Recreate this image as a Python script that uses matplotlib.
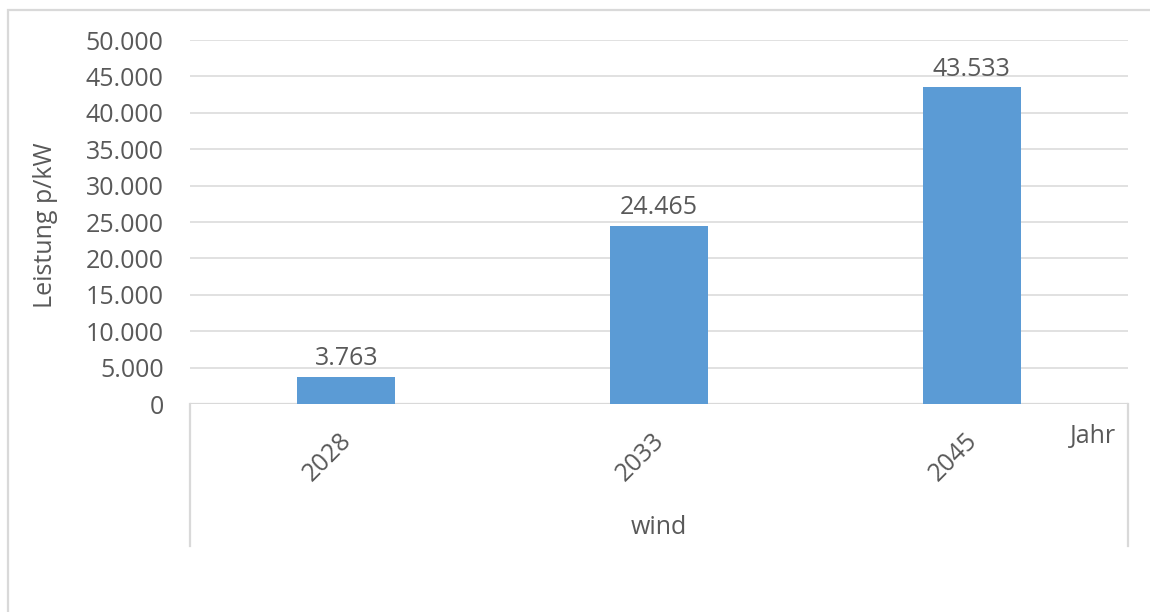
import matplotlib
matplotlib.use("Agg")
import matplotlib.pyplot as plt
from matplotlib.patches import Rectangle
from matplotlib.lines import Line2D

categories = ["2028", "2033", "2045"]
values = [3763, 24465, 43533]
yticks = [0, 5000, 10000, 15000, 20000, 25000, 30000, 35000, 40000, 45000, 50000]
group_label = "wind"
x_title = "Jahr"
y_title = "Leistung p/kW"

def de_fmt(v):
    return f"{v:,.0f}".replace(",", ".")

plt.rcParams['font.family'] = ['Open Sans', 'DejaVu Sans']
TXT = "#595959"
GRID = "#D9D9D9"
BAR = "#5B9BD5"
FS = 18

W, H = 1150, 612
fig = plt.figure(figsize=(W / 100, H / 100), dpi=100)
ax = fig.add_axes([190 / W, (H - 404) / H, (1128 - 190) / W, (404 - 40) / H])

x = list(range(len(categories)))
ax.bar(x, values, width=0.314, color=BAR, zorder=3)
ax.set_xlim(-0.5, len(categories) - 0.5)
ax.set_ylim(0, 50000)
ax.set_yticks(yticks)
ax.set_yticklabels([de_fmt(v) for v in yticks], fontsize=FS, color=TXT)
ax.tick_params(axis='y', length=0, pad=19)
ax.set_xticks([])
ax.grid(axis='y', color=GRID, lw=1.1, zorder=0)
for s in ax.spines.values():
    s.set_visible(False)
ax.axhline(0, color=GRID, lw=1.6, zorder=2)

# data labels
for xi, v in zip(x, values):
    ax.annotate(de_fmt(v), (xi, v), xytext=(0, 13), textcoords='offset points',
                ha='center', va='center', fontsize=FS, color=TXT)

# rotated category labels
for xi, c in zip(x, categories):
    ax.annotate(c, (xi, 0), xytext=(-13.5, -38.2), textcoords='offset points',
                ha='center', va='center', rotation=45, fontsize=FS, color=TXT,
                annotation_clip=False)

# multi-level axis lines
axh = (404 - 40)
depth = (546 - 404) / axh
for xa in (0, 1):
    ax.add_line(Line2D([xa, xa], [0, -depth], transform=ax.transAxes,
                       color=GRID, lw=1.6, clip_on=False))

ax.text(0.5, -(527 - 404) / axh, group_label, transform=ax.transAxes,
        ha='center', va='center', fontsize=FS, color=TXT)
ax.text((1116 - 190) / (1128 - 190), -(437 - 404) / axh, x_title, transform=ax.transAxes,
        ha='right', va='center', fontsize=FS, color=TXT)
ax.set_ylabel(y_title, fontsize=FS, color=TXT)
ax.yaxis.set_label_coords(-(190 - 58) / (1128 - 190), 0.49)

# chart area border
fig.patches.append(Rectangle((8 / W, -0.1), 1.2, (H - 10) / H + 0.1,
                             transform=fig.transFigure, fill=False,
                             edgecolor=GRID, lw=1.6))

fig.savefig("out.png", dpi=100, facecolor="white")
